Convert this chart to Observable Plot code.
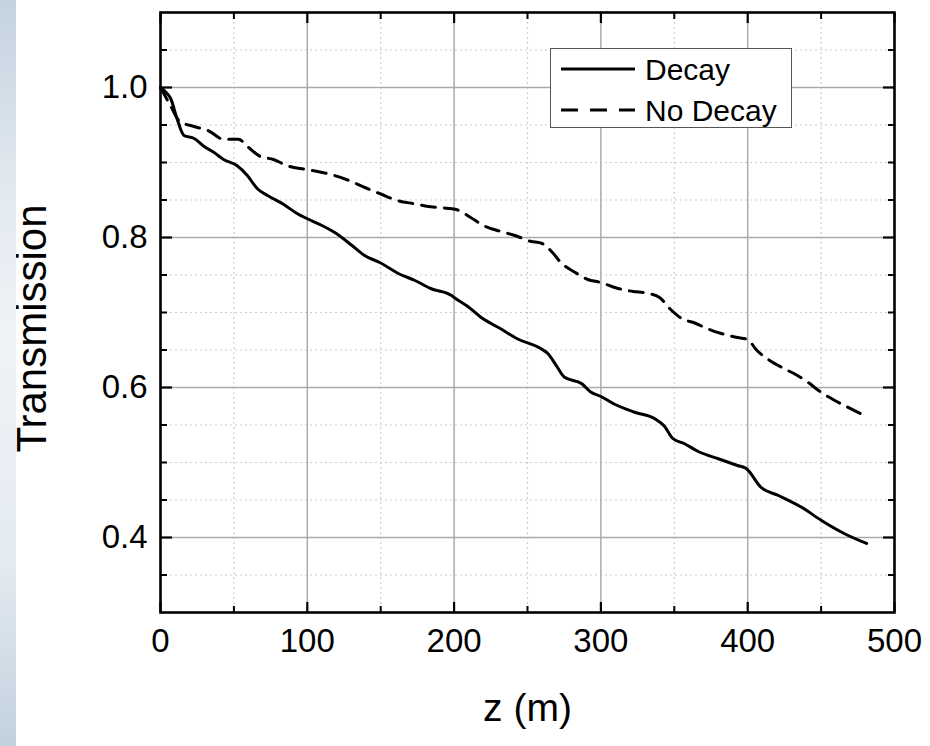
<!DOCTYPE html>
<html>
<head>
<meta charset="utf-8">
<script src="https://cdn.jsdelivr.net/npm/d3@7"></script>
<script src="https://cdn.jsdelivr.net/npm/@observablehq/plot@0.6"></script>
<style>
  html, body { margin: 0; padding: 0; background: #fff; }
  #wrap { position: relative; width: 930px; height: 746px; overflow: hidden;
          font-family: "Liberation Sans", Arial, sans-serif; }
  #strip { position: absolute; left: 0; top: 0; width: 16px; height: 746px;
           background: linear-gradient(to bottom, #c4d3e0 0%, #e2e9f0 25%, #eff3f7 45%, #e4ebf1 75%, #c2d1de 100%); }
  #legend { position: absolute; left: 550px; top: 48px; width: 240px; height: 78px;
            border: 1.5px solid #555; background: #fff; }
  #chart { position: absolute; left: 0; top: 0; }
</style>
</head>
<body>
<div id="wrap">
  <div id="chart"></div>
  <div id="strip"></div>
  <div id="legend"></div>
</div>
<script>
// ---- data ----
const decayZ = [0, 4, 7, 11, 16, 23, 30, 36, 43, 52, 59, 66, 73, 84, 93, 100, 110, 120, 130, 139, 150, 162, 173, 184, 198, 200, 210, 218, 232, 243, 259, 264, 270, 275, 287, 293, 300, 309, 323, 337, 343, 349, 357, 366, 380, 393, 399, 409, 421, 437, 450, 466, 481];
const decayT = [1.0, 0.993, 0.985, 0.96, 0.936, 0.932, 0.921, 0.914, 0.904, 0.896, 0.883, 0.865, 0.856, 0.844, 0.832, 0.825, 0.816, 0.805, 0.79, 0.776, 0.766, 0.752, 0.743, 0.732, 0.723, 0.720, 0.707, 0.694, 0.678, 0.665, 0.652, 0.645, 0.628, 0.614, 0.605, 0.594, 0.588, 0.578, 0.567, 0.558, 0.549, 0.532, 0.525, 0.515, 0.505, 0.496, 0.492, 0.467, 0.456, 0.44, 0.423, 0.405, 0.392];

const noDecayZ = [0, 7, 13, 23, 33, 43, 53, 60, 68, 77, 86, 98, 107, 118, 127, 140, 150, 162, 173, 184, 195, 202, 211, 220, 232, 241, 252, 260, 267, 273, 282, 291, 300, 310, 322, 331, 340, 347, 355, 364, 373, 382, 392, 400, 406, 415, 424, 433, 441, 449, 459, 468, 481];
const noDecayT = [1.0, 0.975, 0.955, 0.948, 0.942, 0.931, 0.931, 0.920, 0.908, 0.904, 0.896, 0.891, 0.888, 0.883, 0.877, 0.866, 0.858, 0.849, 0.845, 0.841, 0.839, 0.837, 0.827, 0.816, 0.808, 0.803, 0.795, 0.792, 0.780, 0.766, 0.754, 0.744, 0.740, 0.733, 0.728, 0.726, 0.720, 0.705, 0.692, 0.686, 0.678, 0.672, 0.667, 0.664, 0.650, 0.636, 0.626, 0.617, 0.607, 0.595, 0.583, 0.574, 0.561];

const seriesNames = ["Decay", "No Decay"];
const xMajor = [0, 100, 200, 300, 400, 500];
const xMinor = [50, 150, 250, 350, 450];
const yMajor = [0.4, 0.6, 0.8, 1.0];
const yMinor = [0.35, 0.45, 0.5, 0.55, 0.65, 0.7, 0.75, 0.85, 0.9, 0.95, 1.05];
const xGridMajor = [100, 200, 300, 400];
const yTitle = "Transmission";
const xTitle = "z (m)";

const decay = decayZ.map((z, i) => ({z, t: decayT[i]}));
const noDecay = noDecayZ.map((z, i) => ({z, t: noDecayT[i]}));

const font = "'Liberation Sans', Arial, sans-serif";
const blank = () => "";

const chart = Plot.plot({
  width: 930,
  height: 746,
  marginLeft: 160,
  marginRight: 36,
  marginTop: 12,
  marginBottom: 134,
  style: {fontFamily: font, background: "transparent", color: "#000"},
  x: {domain: [0, 500], axis: null},
  y: {domain: [0.3, 1.1], axis: null},
  marks: [
    Plot.gridX(xMinor, {stroke: "#cccccc", strokeOpacity: 1, strokeWidth: 1.2, strokeDasharray: "2,3"}),
    Plot.gridY(yMinor, {stroke: "#cccccc", strokeOpacity: 1, strokeWidth: 1.2, strokeDasharray: "2,3"}),
    Plot.gridX(xGridMajor, {stroke: "#aaaaaa", strokeOpacity: 1, strokeWidth: 1.5}),
    Plot.gridY(yMajor, {stroke: "#aaaaaa", strokeOpacity: 1, strokeWidth: 1.5}),
    Plot.line(noDecay, {x: "z", y: "t", stroke: "#000", strokeWidth: 3, strokeDasharray: "14,9", curve: "monotone-x"}),
    Plot.line(decay, {x: "z", y: "t", stroke: "#000", strokeWidth: 3, curve: "monotone-x"}),
    // inward ticks, all four sides
    Plot.axisX({anchor: "bottom", ticks: xMajor, tickSize: -10, tickPadding: 26, fontSize: 33, label: null, strokeWidth: 2.2, tickFormat: d => String(d)}),
    Plot.axisX({anchor: "bottom", ticks: xMinor, tickSize: -6, label: null, strokeWidth: 2, tickFormat: blank}),
    Plot.axisX({anchor: "top", ticks: xMajor, tickSize: -10, label: null, strokeWidth: 2.2, tickFormat: blank}),
    Plot.axisX({anchor: "top", ticks: xMinor, tickSize: -6, label: null, strokeWidth: 2, tickFormat: blank}),
    Plot.axisY({anchor: "left", ticks: yMajor, tickSize: -12, tickPadding: 25, fontSize: 33, label: null, strokeWidth: 2.2, tickFormat: d => d.toFixed(1)}),
    Plot.axisY({anchor: "left", ticks: yMinor, tickSize: -7, label: null, strokeWidth: 2, tickFormat: blank}),
    Plot.axisY({anchor: "right", ticks: yMajor, tickSize: -12, label: null, strokeWidth: 2.2, tickFormat: blank}),
    Plot.axisY({anchor: "right", ticks: yMinor, tickSize: -7, label: null, strokeWidth: 2, tickFormat: blank}),
    Plot.text([yTitle], {text: d => d, frameAnchor: "left", textAnchor: "middle", lineAnchor: "middle", rotate: -90, dx: -128, dy: 16, fontSize: 42, fill: "#000"}),
    Plot.text([xTitle], {text: d => d, frameAnchor: "bottom", textAnchor: "middle", lineAnchor: "middle", dy: 96, fontSize: 39, fill: "#000"}),
    Plot.frame({stroke: "#000", strokeWidth: 2.6})
  ]
});
document.getElementById("chart").appendChild(chart);

// legend
const ns = "http://www.w3.org/2000/svg";
const lg = document.createElementNS(ns, "svg");
lg.setAttribute("width", 240);
lg.setAttribute("height", 78);
lg.style.fontFamily = font;
seriesNames.forEach((name, i) => {
  const yy = 20 + i * 41;
  const ln = document.createElementNS(ns, "line");
  ln.setAttribute("x1", 10); ln.setAttribute("x2", 84);
  ln.setAttribute("y1", yy); ln.setAttribute("y2", yy);
  ln.setAttribute("stroke", "#000"); ln.setAttribute("stroke-width", 2.8);
  if (i === 1) ln.setAttribute("stroke-dasharray", "17,12");
  lg.appendChild(ln);
  const tx = document.createElementNS(ns, "text");
  tx.setAttribute("x", 94); tx.setAttribute("y", yy + 11);
  tx.setAttribute("font-size", 30);
  tx.textContent = name;
  lg.appendChild(tx);
});
document.getElementById("legend").appendChild(lg);
</script>
</body>
</html>
